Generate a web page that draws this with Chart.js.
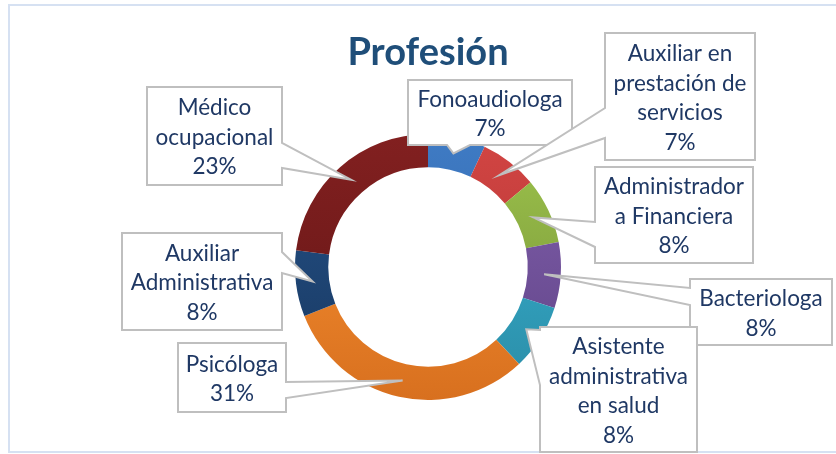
<!DOCTYPE html>
<html>
<head>
<meta charset="utf-8">
<script src="https://cdn.jsdelivr.net/npm/chart.js@4/dist/chart.umd.min.js"></script>
<style>
  html, body { margin: 0; padding: 0; background: #fff; }
  #wrap { width: 836px; height: 454px; }
</style>
</head>
<body>
<div id="wrap"><canvas id="myChart" width="836" height="454"></canvas></div>
<script>
// datos del grafico
var titulo = 'Profesión';
var profesiones = [
  ['Fonoaudiologa'],
  ['Auxiliar en', 'prestación de', 'servicios'],
  ['Administrador', 'a Financiera'],
  ['Bacteriologa'],
  ['Asistente', 'administrativa', 'en salud'],
  ['Psicóloga'],
  ['Auxiliar', 'Administrativa'],
  ['Médico', 'ocupacional']
];
var porcentajes = [7, 7, 8, 8, 8, 31, 8, 23];

// colores (claro arriba, oscuro abajo)
var coloresClaros = ['#3f7bc4', '#d24543', '#9dc34c', '#8260ae', '#3ab6d6', '#fd9634', '#26538a', '#822020'];
var coloresOscuros = ['#2e62a6', '#ad3331', '#738f36', '#5f4385', '#2a8ca6', '#d8701f', '#17375f', '#621515'];

// cajas de las etiquetas: [x0, y0, x1, y1], lado de la flecha y base de la flecha
var cajas = [
  { r: [408, 80, 572, 145], lado: 'bottom', base: [447, 470] },
  { r: [605, 33, 755, 160], lado: 'left', base: [108, 138] },
  { r: [595, 167, 753, 263], lado: 'left', base: [222, 247] },
  { r: [690, 279, 832, 345], lado: 'left', base: [288, 305] },
  { r: [540, 327, 697, 452], lado: 'left', base: [330, 385] },
  { r: [178, 343, 286, 412], lado: 'right', base: [382, 398] },
  { r: [122, 233, 282, 330], lado: 'right', base: [252, 273] },
  { r: [147, 87, 282, 185], lado: 'right', base: [143, 168] }
];

var fuente = '22.5px Lato';
var colorTexto = '#1f3864';

// marco azul claro del grafico
var marco = {
  id: 'marco',
  beforeDraw: function(chart) {
    var c = chart.ctx;
    c.save();
    c.strokeStyle = '#d6e1f2';
    c.lineWidth = 2;
    c.strokeRect(9, 5, 900, 447);
    c.restore();
  }
};

// etiquetas tipo "callout" como las de Excel
var etiquetas = {
  id: 'etiquetas',
  afterDatasetsDraw: function(chart) {
    var c = chart.ctx;
    var meta = chart.getDatasetMeta(0);
    c.save();
    meta.data.forEach(function(arc, i) {
      var p = arc.getProps(['x', 'y', 'startAngle', 'endAngle', 'innerRadius', 'outerRadius'], true);
      var a = (p.startAngle + p.endAngle) / 2;
      var rm = (p.innerRadius + p.outerRadius) / 2;
      var tx = p.x + Math.cos(a) * rm;
      var ty = p.y + Math.sin(a) * rm;
      var b = cajas[i];
      var x0 = b.r[0], y0 = b.r[1], x1 = b.r[2], y1 = b.r[3];

      c.beginPath();
      c.moveTo(x0, y0);
      c.lineTo(x1, y0);
      if (b.lado === 'right') {
        c.lineTo(x1, b.base[0]); c.lineTo(tx, ty); c.lineTo(x1, b.base[1]);
      }
      c.lineTo(x1, y1);
      if (b.lado === 'bottom') {
        c.lineTo(b.base[1], y1); c.lineTo(tx, ty); c.lineTo(b.base[0], y1);
      }
      c.lineTo(x0, y1);
      if (b.lado === 'left') {
        c.lineTo(x0, b.base[1]); c.lineTo(tx, ty); c.lineTo(x0, b.base[0]);
      }
      c.closePath();
      c.fillStyle = '#ffffff';
      c.fill();
      c.strokeStyle = '#bfbfbf';
      c.lineWidth = 2;
      c.stroke();

      var lineas = chart.data.labels[i].concat([chart.data.datasets[0].data[i] + '%']);
      var cx = (x0 + x1) / 2;
      var cy = (y0 + y1) / 2 + 1.5;
      var lh = 29.5;
      c.fillStyle = colorTexto;
      c.font = fuente;
      c.textAlign = 'center';
      c.textBaseline = 'middle';
      lineas.forEach(function(t, j) {
        c.fillText(t, cx, cy + (j - (lineas.length - 1) / 2) * lh);
      });
    });
    c.restore();
  }
};

function degradado(i) {
  return function(context) {
    var area = context.chart.chartArea;
    if (!area) return coloresClaros[i];
    var g = context.chart.ctx.createLinearGradient(0, area.top, 0, area.bottom);
    g.addColorStop(0, coloresClaros[i]);
    g.addColorStop(1, coloresOscuros[i]);
    return g;
  };
}

var ctx = document.getElementById('myChart').getContext('2d');
var chart = new Chart(ctx, {
  type: 'doughnut',
  data: {
    labels: profesiones,
    datasets: [{
      data: porcentajes,
      backgroundColor: function(context) { return degradado(context.dataIndex)(context); },
      borderWidth: 0
    }]
  },
  options: {
    responsive: false,
    animation: false,
    cutout: '75%',
    events: [],
    layout: { padding: { left: 295, right: 275, top: 0, bottom: 54 } },
    plugins: {
      legend: { display: false },
      tooltip: { enabled: false },
      title: {
        display: true,
        text: titulo,
        color: '#1f4e79',
        font: { family: 'Lato', size: 38, weight: 'bold' },
        padding: { top: 30, bottom: 58.4 }
      }
    }
  },
  plugins: [marco, etiquetas]
});
</script>
</body>
</html>
